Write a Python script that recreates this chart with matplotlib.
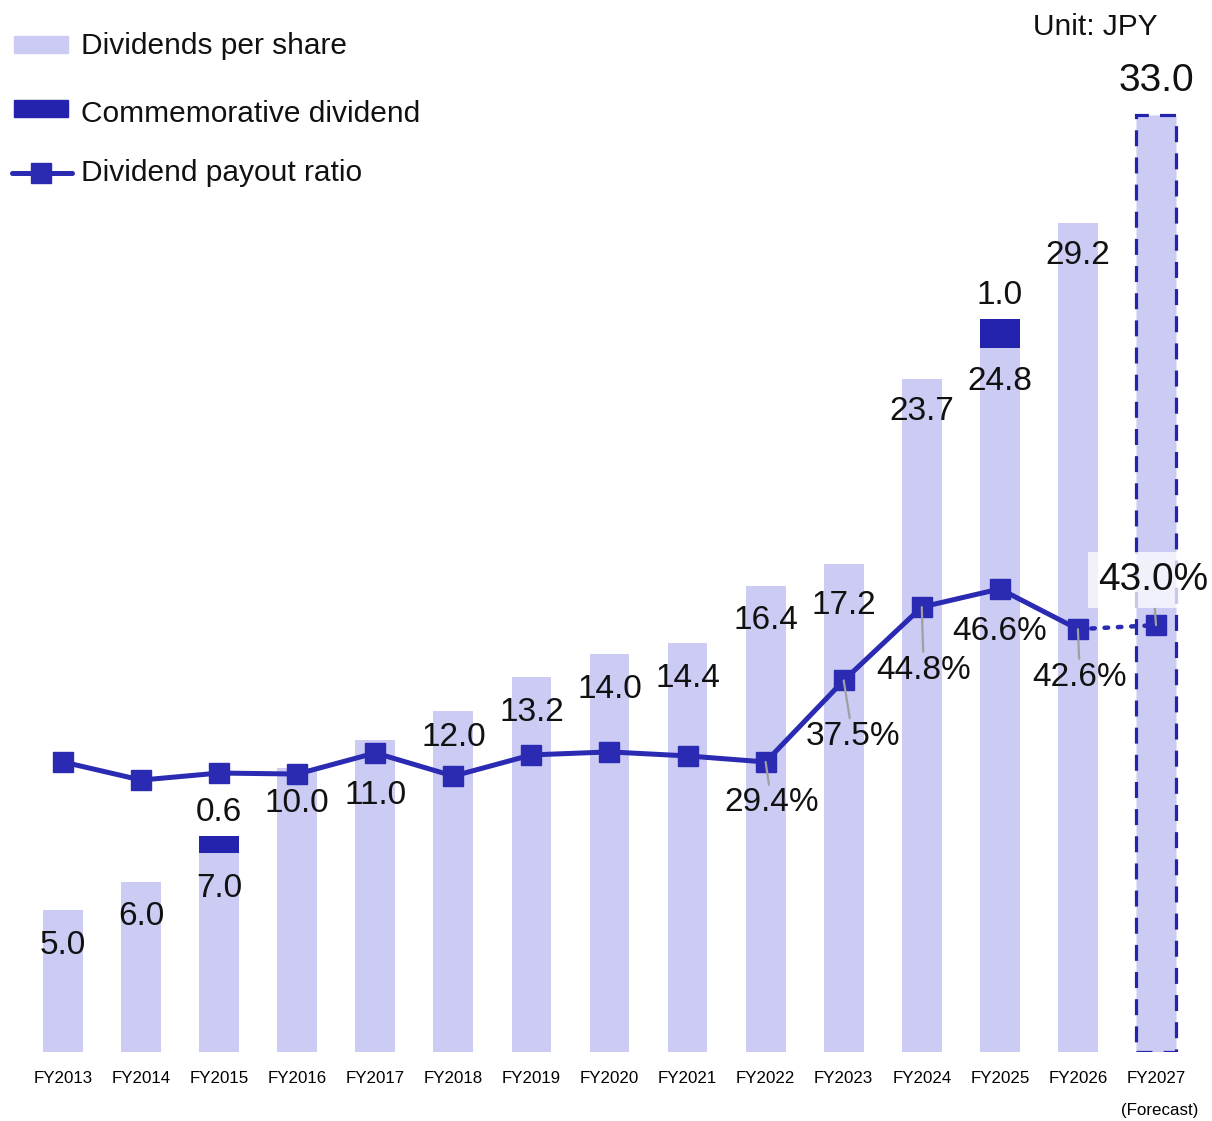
import numpy as np
import matplotlib
matplotlib.use('Agg')
import matplotlib.pyplot as plt
from matplotlib.patches import Rectangle
from matplotlib.lines import Line2D

plt.rcParams['font.family'] = ['Liberation Sans', 'DejaVu Sans']

# data
years = ['FY2013', 'FY2014', 'FY2015', 'FY2016', 'FY2017', 'FY2018', 'FY2019', 'FY2020',
         'FY2021', 'FY2022', 'FY2023', 'FY2024', 'FY2025', 'FY2026', 'FY2027']
dps = [5.0, 6.0, 7.0, 10.0, 11.0, 12.0, 13.2, 14.0, 14.4, 16.4, 17.2, 23.7, 24.8, 29.2, 33.0]
commem = [0, 0, 0.6, 0, 0, 0, 0, 0, 0, 0, 0, 0, 1.0, 0, 0]
payout = [29.4, 27.6, 28.3, 28.2, 30.3, 28.0, 30.1, 30.4, 30.0, 29.4, 37.5, 44.8, 46.6, 42.6, 43.0]
payout_shown = [9, 10, 11, 12, 13, 14]   # ratios that carry a label
forecast = 14

LIGHT = '#CBCBF4'
DARK = '#2323AD'
LINEC = '#2A2AB2'

# label placement (pixels, screen)
dps_dy = [-35, -35, -35, -35, -56, -26, -35, -35, -35, -34, -42, -33, -34, -33, 34]
pct_off = {9: (6, 41), 10: (9, 56), 11: (2, 63), 12: (0, 43), 13: (2, 48), 14: (-3, -45)}

W, H = 1212, 1121
fig = plt.figure(figsize=(W / 100, H / 100), dpi=100)
base_px, top_px = 1052, 40
ax = fig.add_axes([0, (H - base_px) / H, 1, (base_px - top_px) / H])

x = np.arange(len(years))
pitch = 78.07
ax.set_xlim(-63 / pitch, (W - 63) / pitch)
ax.set_ylim(0, (base_px - top_px) / 28.4)

ax.bar(x[:forecast], dps[:forecast], width=0.51, color=LIGHT, zorder=1)
ax.bar(x[:forecast], commem[:forecast], bottom=dps[:forecast], width=0.51, color=DARK, zorder=1)
ax.bar(x[forecast], dps[forecast], width=0.51, color=LIGHT, edgecolor=DARK,
       linewidth=2.3, linestyle=(0, (5, 3.5)), zorder=1)

for i, v in enumerate(dps):
    big = i == forecast
    ax.annotate(f'{v:.1f}', (x[i], v), xytext=(0, dps_dy[i] * 0.72), textcoords='offset points',
                ha='center', va='center', fontsize=28 if big else 24, color='#111111')
for i, c in enumerate(commem):
    if c > 0:
        ax.annotate(f'{c:.1f}', (x[i], dps[i] + c), xytext=(0, 6), textcoords='offset points',
                    ha='center', va='bottom', fontsize=24, color='#111111')

ax.set_xticks(x)
ax.set_xticklabels(years, fontsize=12.2)
ax.tick_params(axis='x', length=0, pad=14)
ax.set_yticks([])
for s in ax.spines.values():
    s.set_visible(False)
ax.text(x[forecast] + 0.05, -58 / 28.4, '(Forecast)', ha='center', va='center', fontsize=12.2)

# payout ratio on its own scale
ax2 = ax.twinx()
ax2.set_ylim(0.57, 0.57 + (base_px - top_px) / 10.06)
ax2.set_yticks([])
for s in ax2.spines.values():
    s.set_visible(False)
ax2.plot(x[:forecast], payout[:forecast], color=LINEC, lw=3.6, marker='s', ms=14.5, zorder=3)
ax2.plot(x[forecast - 1:], payout[forecast - 1:], color=LINEC, lw=3.2,
         linestyle=(0, (0.8, 2.2)), dash_capstyle='round', zorder=3)
ax2.plot(x[forecast], payout[forecast], color=LINEC, marker='s', ms=14.5, ls='none', zorder=3)

for i in payout_shown:
    dx, dy = pct_off[i]
    big = i == forecast
    kw = dict(textcoords='offset points', ha='center', va='center',
              fontsize=28 if big else 24, color='#111111', zorder=5)
    if i != 12:
        kw['arrowprops'] = dict(arrowstyle='-', color='#A0A0A0', lw=1.6, shrinkA=0, shrinkB=0)
    if big:
        kw['bbox'] = dict(boxstyle='square,pad=0.25', fc='white', ec='none', alpha=0.75)
    ax2.annotate(f'{payout[i]:.1f}%', (x[i], payout[i]), xytext=(dx * 0.72, -dy * 0.72), **kw)


def fx(px):
    return px / W


def fy(py):
    return 1 - py / H


# legend
fig.add_artist(Rectangle((fx(14), fy(53)), fx(54), 17 / H, color=LIGHT, transform=fig.transFigure))
fig.add_artist(Rectangle((fx(14), fy(117)), fx(54), 17 / H, color=DARK, transform=fig.transFigure))
fig.add_artist(Line2D([fx(12), fx(72)], [fy(173), fy(173)], color=LINEC, lw=3.6,
                      solid_capstyle='round', transform=fig.transFigure))
fig.add_artist(Line2D([fx(41)], [fy(173)], color=LINEC, marker='s', ms=15, transform=fig.transFigure))
for yy, lab in [(46, 'Dividends per share'), (114, 'Commemorative dividend'), (173, 'Dividend payout ratio')]:
    fig.text(fx(81), fy(yy), lab, ha='left', va='center', fontsize=21.5, color='#111111')

fig.text(fx(1095), fy(27), 'Unit: JPY', ha='center', va='center', fontsize=21.5, color='#111111')

fig.savefig('out.png', dpi=100)
